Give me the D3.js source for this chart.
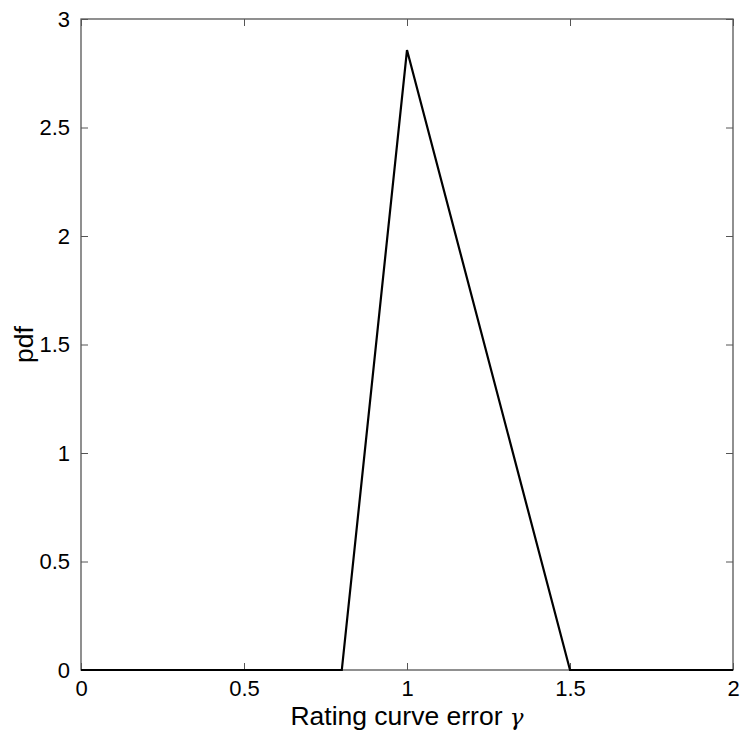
<!DOCTYPE html>
<html>
<head>
<meta charset="utf-8">
<script src="https://cdn.jsdelivr.net/npm/d3@7"></script>
<style>
  body { margin: 0; background: #fff; }
  svg text { font-family: "Liberation Sans", Arial, sans-serif; fill: #000; }
</style>
</head>
<body>
<div id="chart"></div>
<script>
// pdf of a triangular distribution, corner points
var gammaVals = [0, 0.8, 1, 1.5, 2];
var pdfVals = [0, 0, 2.857, 0, 0];
var xTicks = [0, 0.5, 1, 1.5, 2];
var yTicks = [0, 0.5, 1, 1.5, 2, 2.5, 3];

var margin = { top: 19, right: 7, bottom: 70, left: 81 },
    width = 740 - margin.left - margin.right,
    height = 740 - margin.top - margin.bottom;

var x = d3.scaleLinear().domain([0, 2]).range([0, width]);
var y = d3.scaleLinear().domain([0, 3]).range([height, 0]);

var svg = d3.select("#chart")
    .append("svg")
    .attr("width", 740)
    .attr("height", 740)
    .append("g")
    .attr("transform", "translate(" + margin.left + "," + margin.top + ")");

// box
svg.append("rect")
    .attr("width", width)
    .attr("height", height)
    .attr("fill", "none")
    .attr("stroke", "#555")
    .attr("stroke-width", 1.3);

var fmt = function (d) { return d3.format("")(d); };

// axes, ticks pointing inward
var axBottom = svg.append("g")
    .attr("transform", "translate(0," + height + ")")
    .call(d3.axisBottom(x).tickValues(xTicks).tickSize(-7).tickPadding(10.5).tickFormat(fmt));
var axTop = svg.append("g")
    .call(d3.axisTop(x).tickValues(xTicks).tickSize(-7).tickFormat(""));
var axLeft = svg.append("g")
    .call(d3.axisLeft(y).tickValues(yTicks).tickSize(-7).tickPadding(11).tickFormat(fmt));
var axRight = svg.append("g")
    .attr("transform", "translate(" + width + ",0)")
    .call(d3.axisRight(y).tickValues(yTicks).tickSize(-7).tickFormat(""));

[axBottom, axTop, axLeft, axRight].forEach(function (g) {
    g.select(".domain").remove();
    g.selectAll(".tick line").attr("stroke", "#555").attr("stroke-width", 1);
    g.selectAll("text").style("font-size", "22px").attr("fill", "#000");
});

// data line
var line = d3.line()
    .x(function (d, i) { return x(gammaVals[i]); })
    .y(function (d) { return y(d); });

svg.append("path")
    .datum(pdfVals)
    .attr("d", line)
    .attr("fill", "none")
    .attr("stroke", "#000")
    .attr("stroke-width", 2.2);

// labels
var xl = svg.append("text")
    .attr("x", width / 2)
    .attr("y", height + 55)
    .attr("text-anchor", "middle")
    .style("font-size", "26.5px");
xl.append("tspan").text("Rating curve error ");
xl.append("tspan").text("γ").style("font-family", "'DejaVu Serif', 'Liberation Serif', serif").style("font-style", "italic").style("font-size", "23px");

svg.append("text")
    .attr("transform", "translate(" + (-48) + "," + (height / 2) + ") rotate(-90)")
    .attr("text-anchor", "middle")
    .style("font-size", "26.5px")
    .text("pdf");
</script>
</body>
</html>
